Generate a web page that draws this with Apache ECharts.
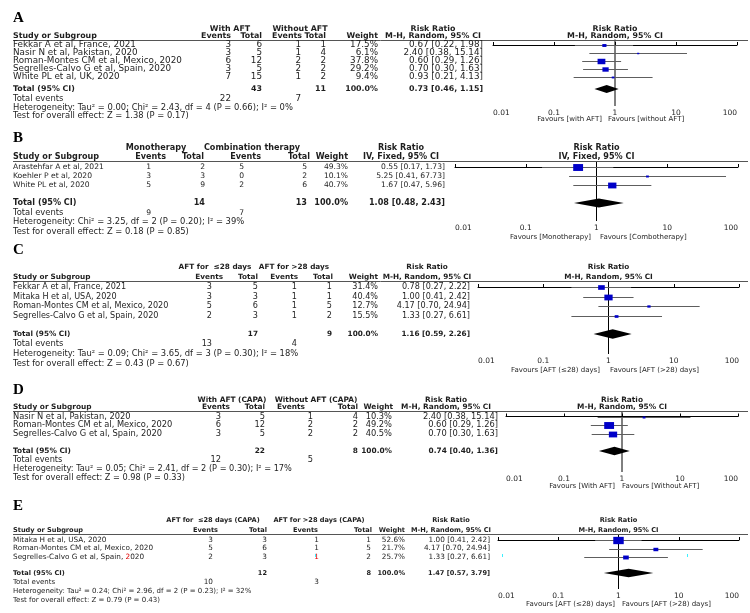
<!DOCTYPE html>
<html><head><meta charset="utf-8">
<script src="https://cdn.jsdelivr.net/npm/echarts@6/dist/echarts.min.js"></script>
<style>html,body{margin:0;padding:0;background:#fff}#c{width:750px;height:613px}</style>
</head><body><div id="c"></div><script>
const tickLabels = ['0.01','0.1','1','10','100'];

// ---------- Panel A ----------
const aStudies = ['Fekkar A et al, France, 2021','Nasir N et al, Pakistan, 2020','Roman-Montes CM et al, Mexico, 2020','Segrelles-Calvo G et al, Spain, 2020','White PL et al, UK, 2020'];
const aEv1 = [3,3,6,3,7], aTot1 = [6,5,12,5,15], aEv2 = [1,1,2,2,1], aTot2 = [1,4,2,2,2];
const aWeight = [17.5,6.1,37.8,29.2,9.4];
const aRR = [0.67,2.40,0.60,0.70,0.93], aLo = [0.22,0.38,0.29,0.30,0.21], aHi = [1.98,15.14,1.26,1.63,4.13];
const aTotalN = [43,11], aTotalRR = [0.73,0.46,1.15], aEvents = [22,7];
const aHet = 'Heterogeneity: Tau² = 0.00; Chi² = 2.43, df = 4 (P = 0.66); I² = 0%';
const aTest = 'Test for overall effect: Z = 1.38 (P = 0.17)';
const aGroups = ['With AFT','Without AFT'], aMethod = 'M-H, Random, 95% CI';
const aFavours = ['Favours [with AFT]','Favours [without AFT]'];

// ---------- Panel B ----------
const bStudies = ['Arastehfar A et al, 2021','Koehler P et al, 2020','White PL et al, 2020'];
const bEv1 = [1,3,5], bTot1 = [2,3,9], bEv2 = [5,0,2], bTot2 = [5,2,6];
const bWeight = [49.3,10.1,40.7];
const bRR = [0.55,5.25,1.67], bLo = [0.17,0.41,0.47], bHi = [1.73,67.73,5.96];
const bTotalN = [14,13], bTotalRR = [1.08,0.48,2.43], bEvents = [9,7];
const bHet = 'Heterogeneity: Chi² = 3.25, df = 2 (P = 0.20); I² = 39%';
const bTest = 'Test for overall effect: Z = 0.18 (P = 0.85)';
const bGroups = ['Monotherapy','Combination therapy'], bMethod = 'IV, Fixed, 95% CI';
const bFavours = ['Favours [Monotherapy]','Favours [Combotherapy]'];

// ---------- Panel C ----------
const cStudies = ['Fekkar A et al, France, 2021','Mitaka H et al, USA, 2020','Roman-Montes CM et al, Mexico, 2020','Segrelles-Calvo G et al, Spain, 2020'];
const cEv1 = [3,3,5,2], cTot1 = [5,3,6,3], cEv2 = [1,1,1,1], cTot2 = [1,1,5,2];
const cWeight = [31.4,40.4,12.7,15.5];
const cRR = [0.78,1.00,4.17,1.33], cLo = [0.27,0.41,0.70,0.27], cHi = [2.22,2.42,24.94,6.61];
const cTotalN = [17,9], cTotalRR = [1.16,0.59,2.26], cEvents = [13,4];
const cHet = 'Heterogeneity: Tau² = 0.09; Chi² = 3.65, df = 3 (P = 0.30); I² = 18%';
const cTest = 'Test for overall effect: Z = 0.43 (P = 0.67)';
const cGroups = ['AFT for  ≤28 days','AFT for >28 days'], cMethod = 'M-H, Random, 95% CI';
const cFavours = ['Favours [AFT (≤28) days]','Favours [AFT (>28) days]'];

// ---------- Panel D ----------
const dStudies = ['Nasir N et al, Pakistan, 2020','Roman-Montes CM et al, Mexico, 2020','Segrelles-Calvo G et al, Spain, 2020'];
const dEv1 = [3,6,3], dTot1 = [5,12,5], dEv2 = [1,2,2], dTot2 = [4,2,2];
const dWeight = [10.3,49.2,40.5];
const dRR = [2.40,0.60,0.70], dLo = [0.38,0.29,0.30], dHi = [15.14,1.26,1.63];
const dTotalN = [22,8], dTotalRR = [0.74,0.40,1.36], dEvents = [12,5];
const dHet = 'Heterogeneity: Tau² = 0.05; Chi² = 2.41, df = 2 (P = 0.30); I² = 17%';
const dTest = 'Test for overall effect: Z = 0.98 (P = 0.33)';
const dGroups = ['With AFT (CAPA)','Without AFT (CAPA)'], dMethod = 'M-H, Random, 95% CI';
const dFavours = ['Favours [With AFT]','Favours [Without AFT]'];

// ---------- Panel E ----------
const eStudies = ['Mitaka H et al, USA, 2020','Roman-Montes CM et al, Mexico, 2020','Segrelles-Calvo G et al, Spain, 2020'];
const eEv1 = [3,5,2], eTot1 = [3,6,3], eEv2 = [1,1,1], eTot2 = [1,5,2];
const eWeight = [52.6,21.7,25.7];
const eRR = [1.00,4.17,1.33], eLo = [0.41,0.70,0.27], eHi = [2.42,24.94,6.61];
const eTotalN = [12,8], eTotalRR = [1.47,0.57,3.79], eEvents = [10,3];
const eHet = 'Heterogeneity: Tau² = 0.24; Chi² = 2.96, df = 2 (P = 0.23); I² = 32%';
const eTest = 'Test for overall effect: Z = 0.79 (P = 0.43)';
const eGroups = ['AFT for  ≤28 days (CAPA)','AFT for >28 days (CAPA)'], eMethod = 'M-H, Random, 95% CI';
const eFavours = ['Favours [AFT (≤28) days]','Favours [AFT (>28) days]'];

// ---------- layout (positions / sizes only) ----------
const layA = {fs:8.8, fb:7.9, ff:8.4, letterY:18, h1Y:29, h2Y:36, top:39.5, pad:5.5, step:8, totalGap:1.5, bottom:106, teY:99, hetY:107.5, testY:116, favY:119, favL:602, favR:608, x0:493, x1:737, g:[230,300], c:[231,262,302,326,378], v:[231,262,301,326,378], rrC:433, rrR:483};
const layB = {fs:7.6, fb:8.1, ff:8.4, letterY:138, h1Y:148, h2Y:157, top:161, pad:6, step:9, totalGap:2, bottom:221, teY:213, hetY:222, testY:232, favY:237, favL:591, favR:600, x0:455, x1:738, g:[156,252], c:[166,204,261,310,348], v:[151,205,244,307,348], rrC:401, rrR:445};
const layC = {fs:8.1, fb:7.3, ff:8.4, letterY:250, h1Y:267, h2Y:277, top:281, pad:6, step:9.67, totalGap:1.86, bottom:354, teY:344, hetY:353.5, testY:364, favY:370, favL:600, favR:610, x0:478, x1:739, g:[215,294], c:[223,258,298,333,378], v:[212,258,297,332,378], rrC:427, rrR:470};
const layD = {fs:8.3, fb:7.4, ff:8.2, letterY:390, h1Y:400, h2Y:407, top:411, pad:5.5, step:8.5, totalGap:2.06, bottom:472, teY:460, hetY:469, testY:478, favY:486, favL:615, favR:622, x0:506, x1:738, g:[232,316], c:[230,265,305,358,393], v:[221,265,313,358,392], rrC:446, rrR:498};
const layE = {fs:7.3, fb:6.6, ff:7.0, letterY:506, h1Y:520, h2Y:530, top:534, pad:6, step:8.5, totalGap:1.89, bottom:589, teY:582, hetY:591, testY:600, favY:604, favL:615, favR:622, x0:498, x1:739, g:[213,319], c:[218,267,318,372,405], v:[213,267,319,371,405], rrC:451, rrR:490};

const panels = [
  {letter:'A', studies:aStudies, ev1:aEv1, tot1:aTot1, ev2:aEv2, tot2:aTot2, w:aWeight, rr:aRR, lo:aLo, hi:aHi, totN:aTotalN, totRR:aTotalRR, events:aEvents, het:aHet, test:aTest, groups:aGroups, method:aMethod, fav:aFavours, lay:layA},
  {letter:'B', studies:bStudies, ev1:bEv1, tot1:bTot1, ev2:bEv2, tot2:bTot2, w:bWeight, rr:bRR, lo:bLo, hi:bHi, totN:bTotalN, totRR:bTotalRR, events:bEvents, het:bHet, test:bTest, groups:bGroups, method:bMethod, fav:bFavours, lay:layB},
  {letter:'C', studies:cStudies, ev1:cEv1, tot1:cTot1, ev2:cEv2, tot2:cTot2, w:cWeight, rr:cRR, lo:cLo, hi:cHi, totN:cTotalN, totRR:cTotalRR, events:cEvents, het:cHet, test:cTest, groups:cGroups, method:cMethod, fav:cFavours, lay:layC},
  {letter:'D', studies:dStudies, ev1:dEv1, tot1:dTot1, ev2:dEv2, tot2:dTot2, w:dWeight, rr:dRR, lo:dLo, hi:dHi, totN:dTotalN, totRR:dTotalRR, events:dEvents, het:dHet, test:dTest, groups:dGroups, method:dMethod, fav:dFavours, lay:layD},
  {letter:'E', studies:eStudies, ev1:eEv1, tot1:eTot1, ev2:eEv2, tot2:eTot2, w:eWeight, rr:eRR, lo:eLo, hi:eHi, totN:eTotalN, totRR:eTotalRR, events:eEvents, het:eHet, test:eTest, groups:eGroups, method:eMethod, fav:eFavours, lay:layE, redRow:2}
];

const FONT = 'DejaVu Sans';
const TXT = '#1e1e1e';
const SQ = '#0000c8';
const CI = '#5e5e5e';

function studyItem(params, api){
  const y = api.value(4);
  const c = api.coord([api.value(0), y]);
  const l = api.coord([api.value(1), y]);
  const h = api.coord([api.value(2), y]);
  const wt = api.value(3);
  const sw = 1 + 0.18*wt, sh = sw*0.7;
  const yy = Math.round(c[1]) + 0.5;
  return {type:'group', children:[
    {type:'line', shape:{x1:l[0], y1:yy, x2:h[0], y2:yy}, style:{stroke:CI, lineWidth:1}},
    {type:'rect', shape:{x:c[0]-sw/2, y:yy-sh/2, width:sw, height:sh}, style:{fill:SQ}}
  ]};
}
function diamondItem(params, api){
  const y = api.value(3);
  const c = api.coord([api.value(0), y]);
  const l = api.coord([api.value(1), y]);
  const h = api.coord([api.value(2), y]);
  const hh = api.value(4)/2;
  return {type:'polygon', shape:{points:[[l[0],c[1]],[c[0],c[1]-hh],[h[0],c[1]],[c[0],c[1]+hh]]}, style:{fill:'#000'}};
}

const chart = echarts.init(document.getElementById('c'), null, {renderer:'canvas'});
const grids=[], xAxes=[], yAxes=[], series=[];
panels.forEach((p,i)=>{
  const L = p.lay, k = p.studies.length;
  const yMin = -L.pad/L.step;
  const yMax = (L.bottom - L.top)/L.step + yMin;
  p.totalRow = k-1+L.totalGap;
  grids.push({left:L.x0, top:L.top, width:L.x1-L.x0, height:L.bottom-L.top, containLabel:false, outerBoundsMode:'none'});
  xAxes.push({type:'log', logBase:10, gridIndex:i, min:0.01, max:100,
    axisLine:{show:true, lineStyle:{color:'#000', width:1}},
    axisTick:{show:true, inside:true, length:3, lineStyle:{color:'#000'}},
    minorTick:{show:false}, splitLine:{show:false},
    axisLabel:{fontSize:7.5, fontFamily:FONT, color:TXT, margin:3, alignMinLabel:'left', alignMaxLabel:'right',
      formatter:v=>tickLabels[Math.round(Math.log10(v))+2]}});
  yAxes.push({type:'value', gridIndex:i, min:yMin, max:yMax, inverse:true, show:false});
  series.push({type:'line', xAxisIndex:i, yAxisIndex:i, data:[[1,yMin],[1,yMax]], symbol:'none', silent:true,
    lineStyle:{color:'#000', width:1}, z:1});
  series.push({type:'custom', xAxisIndex:i, yAxisIndex:i, silent:true, z:3,
    data:p.rr.map((v,j)=>[v,p.lo[j],p.hi[j],p.w[j],j]), encode:{x:[0,1,2], y:4}, renderItem:studyItem});
  series.push({type:'custom', xAxisIndex:i, yAxisIndex:i, silent:true, z:3,
    data:[[p.totRR[0],p.totRR[1],p.totRR[2],p.totalRow,L.step]], encode:{x:[0,1,2], y:3}, renderItem:diamondItem});
});

chart.setOption({animation:false, backgroundColor:'#fff', grid:grids, xAxis:xAxes, yAxis:yAxes, series:series});

function T(x, y, s, fs, opt){
  opt = opt || {};
  return {type:'text', x:x, y:y, silent:true, z:10, style:{text:s, fontFamily:opt.family||FONT, fontSize:fs,
    fontWeight:opt.bold?'bold':'normal', fill:opt.color||TXT, align:opt.align||'left', verticalAlign:'middle', rich:opt.rich}};
}
const fmt2 = v => v.toFixed(2);
const g = [];
panels.forEach((p,i)=>{
  const L = p.lay, fs = L.fs, fb = L.fb, ff = L.ff;
  const rowY = r => chart.convertToPixel({gridIndex:i}, [1, r])[1];
  const px1 = chart.convertToPixel({gridIndex:i}, [1, 0])[0];
  g.push(T(13, L.letterY, p.letter, 15, {bold:true, family:'Liberation Serif', color:'#000'}));
  g.push(T(L.g[0], L.h1Y, p.groups[0], fb, {bold:true, align:'center'}));
  g.push(T(L.g[1], L.h1Y, p.groups[1], fb, {bold:true, align:'center'}));
  g.push(T(L.rrC, L.h1Y, 'Risk Ratio', fb, {bold:true, align:'center'}));
  g.push(T(px1, L.h1Y, 'Risk Ratio', fb, {bold:true, align:'center'}));
  g.push(T(13, L.h2Y, 'Study or Subgroup', fb, {bold:true}));
  ['Events','Total','Events','Total','Weight'].forEach((h,j)=>g.push(T(L.c[j], L.h2Y, h, fb, {bold:true, align:'right'})));
  g.push(T(L.rrC, L.h2Y, p.method, fb, {bold:true, align:'center'}));
  g.push(T(px1, L.h2Y, p.method, fb, {bold:true, align:'center'}));
  const ly = Math.round(L.top)+0.5;
  g.push({type:'line', silent:true, z:5, shape:{x1:13, y1:ly, x2:748, y2:ly}, style:{stroke:'#555', lineWidth:1}});
  p.studies.forEach((s,j)=>{
    const y = rowY(j);
    if (p.redRow === j) {
      const cut = s.lastIndexOf('2020');
      g.push(T(13, y, '{n|'+s.slice(0,cut)+'}{r|2}{n|'+s.slice(cut+1)+'}', fs,
        {rich:{n:{fontSize:fs, fontFamily:FONT, fill:TXT}, r:{fontSize:fs, fontFamily:FONT, fill:'#e00000'}}}));
    } else {
      g.push(T(13, y, s, fs));
    }
    g.push(T(L.v[0], y, String(p.ev1[j]), fs, {align:'right'}));
    g.push(T(L.v[1], y, String(p.tot1[j]), fs, {align:'right'}));
    g.push(T(L.v[2], y, String(p.ev2[j]), fs, {align:'right', color:(p.redRow===j?'#e00000':TXT)}));
    g.push(T(L.v[3], y, String(p.tot2[j]), fs, {align:'right'}));
    g.push(T(L.v[4], y, p.w[j].toFixed(1)+'%', fs, {align:'right'}));
    g.push(T(L.rrR, y, fmt2(p.rr[j])+' ['+fmt2(p.lo[j])+', '+fmt2(p.hi[j])+']', fs, {align:'right'}));
  });
  const ty = rowY(p.totalRow);
  g.push(T(13, ty, 'Total (95% CI)', fb, {bold:true}));
  g.push(T(L.v[1], ty, String(p.totN[0]), fb, {bold:true, align:'right'}));
  g.push(T(L.v[3], ty, String(p.totN[1]), fb, {bold:true, align:'right'}));
  g.push(T(L.v[4], ty, '100.0%', fb, {bold:true, align:'right'}));
  g.push(T(L.rrR, ty, fmt2(p.totRR[0])+' ['+fmt2(p.totRR[1])+', '+fmt2(p.totRR[2])+']', fb, {bold:true, align:'right'}));
  g.push(T(13, L.teY, 'Total events', ff));
  g.push(T(L.v[0], L.teY, String(p.events[0]), fs, {align:'right'}));
  g.push(T(L.v[2], L.teY, String(p.events[1]), fs, {align:'right'}));
  g.push(T(13, L.hetY, p.het, ff));
  g.push(T(13, L.testY, p.test, ff));
  g.push(T(L.favL, L.favY, p.fav[0], 7, {align:'right'}));
  g.push(T(L.favR, L.favY, p.fav[1], 7, {align:'left'}));
});
[[315,556],[502,556],[687,556]].forEach(c=>g.push({type:'rect', silent:true, z:10, shape:{x:c[0], y:c[1]-2, width:1, height:3}, style:{fill:'#3cf0ff'}}));
chart.setOption({graphic:g});
</script></body></html>
